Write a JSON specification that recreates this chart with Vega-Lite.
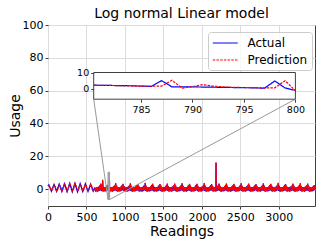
{
"$schema":"https://vega.github.io/schema/vega-lite/v6.json",
"width":267,"height":181,
"padding":{"left":8,"top":7,"right":5,"bottom":5},
"title":{"text":"Log normal Linear model","fontSize":14,"font":"DejaVu Sans","fontWeight":"normal","color":"#000000","offset":-2},
"config":{
"view":{"stroke":"#404040","strokeWidth":1},
"axis":{"labelFont":"DejaVu Sans","titleFont":"DejaVu Sans","labelFontSize":11,"titleFontSize":14,"titleFontWeight":"normal","labelColor":"#000000","titleColor":"#000000","gridColor":"#dcdcdc","gridWidth":1,"tickColor":"#404040","tickSize":3,"domain":false,"labelFlush":false,"labelOverlap":false,"labelBound":false},
"axisY":{"labelOverlap":false},
"axisLeft":{"labelOverlap":false}
},
"data":{"values":[
{"x":0,"a":2,"p":1.8},{"x":10,"a":2.6,"p":2.2},{"x":27,"a":0.8,"p":1.4},{"x":44,"a":-1.3,"p":-1},{"x":61,"a":0.7,"p":0.1},{"x":78,"a":2.8,"p":2.5},{"x":95,"a":0.9,"p":1.5},{"x":112,"a":-1.4,"p":-1.1},{"x":129,"a":0.8,"p":0.2},{"x":146,"a":3,"p":2.7},{"x":163,"a":0.9,"p":1.5},{"x":180,"a":-1.5,"p":-1.2},{"x":197,"a":0.9,"p":0.3},{"x":214,"a":3.3,"p":3},{"x":231,"a":1,"p":1.7},{"x":248,"a":-1.5,"p":-1.2},{"x":265,"a":1,"p":0.4},{"x":282,"a":3.5,"p":3.2},{"x":299,"a":1,"p":1.7},{"x":316,"a":-1.6,"p":-1.3},{"x":333,"a":1,"p":0.4},{"x":350,"a":3.5,"p":3.3},{"x":367,"a":1,"p":1.7},{"x":384,"a":-1.6,"p":-1.3},{"x":401,"a":0.9,"p":0.3},{"x":418,"a":3.3,"p":3.1},{"x":435,"a":0.9,"p":1.6},{"x":452,"a":-1.5,"p":-1.2},{"x":469,"a":0.9,"p":0.3},{"x":486,"a":3.2,"p":3},{"x":503,"a":0.8,"p":1.5},{"x":520,"a":-1.4,"p":-1.1},{"x":537,"a":0.8,"p":0.2},{"x":554,"a":3,"p":2.8},{"x":571,"a":0.8,"p":1.4},{"x":588,"a":-1.2,"p":-1},{"x":605,"a":0.5,"p":0},
{"x":621,"a":-1.4,"p":-1.1},{"x":627,"a":1,"p":1.2},{"x":633,"a":-1.3,"p":-1},{"x":639,"a":1.1,"p":1},{"x":645,"a":-1.5,"p":-1.1},{"x":651,"a":1.2,"p":1.4},{"x":657,"a":-1.2,"p":-0.9},{"x":663,"a":1.7,"p":1.6},{"x":669,"a":-1,"p":-0.6},{"x":675,"a":2.2,"p":2.4},{"x":681,"a":-0.6,"p":-0.3},{"x":687,"a":3.3,"p":3.5},{"x":693,"a":-1.1,"p":-0.7},{"x":699,"a":2,"p":2.2},{"x":705,"a":-1.4,"p":-1.1},{"x":711,"a":4.6,"p":5.8},
{"x":717,"a":-1.5,"p":-1.2},{"x":723,"a":1.1,"p":0.9},{"x":729,"a":-1.2,"p":-1},{"x":735,"a":1,"p":1.2},{"x":741,"a":-1.4,"p":-1.2},{"x":747,"a":1.3,"p":1.2},{"x":753,"a":-1.3,"p":-1},{"x":759,"a":1.6,"p":1.8},{"x":765,"a":-0.9,"p":-0.7},{"x":771,"a":2.4,"p":2.2},{"x":777,"a":-0.5,"p":-0.4},
{"x":780,"a":2.4,"p":2.3},{"x":781,"a":2.3,"p":2.3},{"x":782,"a":2.2,"p":2.2},{"x":783,"a":2.1,"p":2},{"x":784,"a":2,"p":1.9},{"x":785,"a":1.8,"p":1.8},{"x":786,"a":1.6,"p":1.7},{"x":787,"a":5.2,"p":1.8},{"x":788,"a":1.3,"p":5.4},{"x":789,"a":1.3,"p":0.5},{"x":790,"a":1.3,"p":1.5},{"x":791,"a":1.2,"p":2.7},{"x":792,"a":1.1,"p":1.8},{"x":793,"a":1,"p":1.3},{"x":794,"a":0.9,"p":1},{"x":795,"a":0.8,"p":0.9},{"x":796,"a":0.7,"p":0.8},{"x":797,"a":0.5,"p":0.6},{"x":798,"a":5,"p":0.7},{"x":799,"a":0.6,"p":5.2},{"x":800,"a":-0.9,"p":-1.1},
{"x":801,"a":-1.5,"p":-1.2},{"x":807,"a":1.2,"p":1},
{"x":813,"a":-1.4,"p":-1.1},{"x":819,"a":1,"p":1.2},{"x":825,"a":-1.3,"p":-1},{"x":831,"a":1.1,"p":1},{"x":837,"a":-1.5,"p":-1.1},{"x":843,"a":1.2,"p":1.4},{"x":849,"a":-1.2,"p":-0.9},{"x":855,"a":1.7,"p":1.6},{"x":861,"a":-1,"p":-0.6},{"x":867,"a":2.2,"p":2.4},{"x":873,"a":-0.6,"p":-0.3},{"x":879,"a":3.5,"p":3.7},{"x":885,"a":-1.1,"p":-0.7},{"x":891,"a":2,"p":2.2},{"x":897,"a":-1.4,"p":-1.1},{"x":903,"a":1.1,"p":1},
{"x":909,"a":-1.5,"p":-1.2},{"x":915,"a":1.1,"p":0.9},{"x":921,"a":-1.2,"p":-1},{"x":927,"a":1,"p":1.2},{"x":933,"a":-1.4,"p":-1.2},{"x":939,"a":1.3,"p":1.2},{"x":945,"a":-1.3,"p":-1},{"x":951,"a":1.6,"p":1.8},{"x":957,"a":-0.9,"p":-0.7},{"x":963,"a":2.4,"p":2.2},{"x":969,"a":-0.5,"p":-0.4},{"x":975,"a":3.2,"p":3.1},{"x":981,"a":-1.2,"p":-0.8},{"x":987,"a":1.8,"p":2.1},{"x":993,"a":-1.5,"p":-1.2},{"x":999,"a":1.2,"p":1},
{"x":1005,"a":-1.4,"p":-1.1},{"x":1011,"a":1,"p":1.2},{"x":1017,"a":-1.3,"p":-1},{"x":1023,"a":1.1,"p":1},{"x":1029,"a":-1.5,"p":-1.1},{"x":1035,"a":1.2,"p":1.4},{"x":1041,"a":-1.2,"p":-0.9},{"x":1047,"a":1.7,"p":1.6},{"x":1053,"a":-1,"p":-0.6},{"x":1059,"a":2.2,"p":2.4},{"x":1065,"a":-0.6,"p":-0.3},{"x":1071,"a":3.4,"p":3.6},{"x":1077,"a":-1.1,"p":-0.7},{"x":1083,"a":2,"p":2.2},{"x":1089,"a":-1.4,"p":-1.1},{"x":1095,"a":1.1,"p":1},
{"x":1101,"a":-1.5,"p":-1.2},{"x":1107,"a":1.1,"p":0.9},{"x":1113,"a":-1.2,"p":-1},{"x":1119,"a":1,"p":1.2},{"x":1125,"a":-1.4,"p":-1.2},{"x":1131,"a":1.3,"p":1.2},{"x":1137,"a":-1.3,"p":-1},{"x":1143,"a":1.6,"p":1.8},{"x":1149,"a":-0.9,"p":-0.7},{"x":1155,"a":2.4,"p":2.2},{"x":1161,"a":-0.5,"p":-0.4},{"x":1167,"a":3.1,"p":3},{"x":1173,"a":-1.2,"p":-0.8},{"x":1179,"a":1.8,"p":2.1},{"x":1185,"a":-1.5,"p":-1.2},{"x":1191,"a":1.2,"p":1},
{"x":1197,"a":-1.4,"p":-1.1},{"x":1203,"a":1,"p":1.2},{"x":1209,"a":-1.3,"p":-1},{"x":1215,"a":1.1,"p":1},{"x":1221,"a":-1.5,"p":-1.1},{"x":1227,"a":1.2,"p":1.4},{"x":1233,"a":-1.2,"p":-0.9},{"x":1239,"a":1.7,"p":1.6},{"x":1245,"a":-1,"p":-0.6},{"x":1251,"a":2.2,"p":2.4},{"x":1257,"a":-0.6,"p":-0.3},{"x":1263,"a":3.6,"p":3.8},{"x":1269,"a":-1.1,"p":-0.7},{"x":1275,"a":2,"p":2.2},{"x":1281,"a":-1.4,"p":-1.1},{"x":1287,"a":1.1,"p":1},
{"x":1293,"a":-1.5,"p":-1.2},{"x":1299,"a":1.1,"p":0.9},{"x":1305,"a":-1.2,"p":-1},{"x":1311,"a":1,"p":1.2},{"x":1317,"a":-1.4,"p":-1.2},{"x":1323,"a":1.3,"p":1.2},{"x":1329,"a":-1.3,"p":-1},{"x":1335,"a":1.6,"p":1.8},{"x":1341,"a":-0.9,"p":-0.7},{"x":1347,"a":2.4,"p":2.2},{"x":1353,"a":-0.5,"p":-0.4},{"x":1359,"a":3.3,"p":3.2},{"x":1365,"a":-1.2,"p":-0.8},{"x":1371,"a":1.8,"p":2.1},{"x":1377,"a":-1.5,"p":-1.2},{"x":1383,"a":1.2,"p":1},
{"x":1389,"a":-1.4,"p":-1.1},{"x":1395,"a":1,"p":1.2},{"x":1401,"a":-1.3,"p":-1},{"x":1407,"a":1.1,"p":1},{"x":1413,"a":-1.5,"p":-1.1},{"x":1419,"a":1.2,"p":1.4},{"x":1425,"a":-1.2,"p":-0.9},{"x":1431,"a":1.7,"p":1.6},{"x":1437,"a":-1,"p":-0.6},{"x":1443,"a":2.2,"p":2.4},{"x":1449,"a":-0.6,"p":-0.3},{"x":1455,"a":3,"p":3.2},{"x":1461,"a":-1.1,"p":-0.7},{"x":1467,"a":2,"p":2.2},{"x":1473,"a":-1.4,"p":-1.1},{"x":1479,"a":1.1,"p":1},
{"x":1485,"a":-1.5,"p":-1.2},{"x":1491,"a":1.1,"p":0.9},{"x":1497,"a":-1.2,"p":-1},{"x":1503,"a":1,"p":1.2},{"x":1509,"a":-1.4,"p":-1.2},{"x":1515,"a":1.3,"p":1.2},{"x":1521,"a":-1.3,"p":-1},{"x":1527,"a":1.6,"p":1.8},{"x":1533,"a":-0.9,"p":-0.7},{"x":1539,"a":2.4,"p":2.2},{"x":1545,"a":-0.5,"p":-0.4},{"x":1551,"a":3.4,"p":3.3},{"x":1557,"a":-1.2,"p":-0.8},{"x":1563,"a":1.8,"p":2.1},{"x":1569,"a":-1.5,"p":-1.2},{"x":1575,"a":1.2,"p":1},
{"x":1581,"a":-1.4,"p":-1.1},{"x":1587,"a":1,"p":1.2},{"x":1593,"a":-1.3,"p":-1},{"x":1599,"a":1.1,"p":1},{"x":1605,"a":-1.5,"p":-1.1},{"x":1611,"a":1.2,"p":1.4},{"x":1617,"a":-1.2,"p":-0.9},{"x":1623,"a":1.7,"p":1.6},{"x":1629,"a":-1,"p":-0.6},{"x":1635,"a":2.2,"p":2.4},{"x":1641,"a":-0.6,"p":-0.3},{"x":1647,"a":3.2,"p":3.4},{"x":1653,"a":-1.1,"p":-0.7},{"x":1659,"a":2,"p":2.2},{"x":1665,"a":-1.4,"p":-1.1},{"x":1671,"a":1.1,"p":1},
{"x":1677,"a":-1.5,"p":-1.2},{"x":1683,"a":1.1,"p":0.9},{"x":1689,"a":-1.2,"p":-1},{"x":1695,"a":1,"p":1.2},{"x":1701,"a":-1.4,"p":-1.2},{"x":1707,"a":1.3,"p":1.2},{"x":1713,"a":-1.3,"p":-1},{"x":1719,"a":1.6,"p":1.8},{"x":1725,"a":-0.9,"p":-0.7},{"x":1731,"a":2.4,"p":2.2},{"x":1737,"a":-0.5,"p":-0.4},{"x":1743,"a":3.5,"p":3.4},{"x":1749,"a":-1.2,"p":-0.8},{"x":1755,"a":1.8,"p":2.1},{"x":1761,"a":-1.5,"p":-1.2},{"x":1767,"a":1.2,"p":1},
{"x":1773,"a":-1.4,"p":-1.1},{"x":1779,"a":1,"p":1.2},{"x":1785,"a":-1.3,"p":-1},{"x":1791,"a":1.1,"p":1},{"x":1797,"a":-1.5,"p":-1.1},{"x":1803,"a":1.2,"p":1.4},{"x":1809,"a":-1.2,"p":-0.9},{"x":1815,"a":1.7,"p":1.6},{"x":1821,"a":-1,"p":-0.6},{"x":1827,"a":2.2,"p":2.4},{"x":1833,"a":-0.6,"p":-0.3},{"x":1839,"a":3.1,"p":3.3},{"x":1845,"a":-1.1,"p":-0.7},{"x":1851,"a":2,"p":2.2},{"x":1857,"a":-1.4,"p":-1.1},{"x":1863,"a":1.1,"p":1},
{"x":1869,"a":-1.5,"p":-1.2},{"x":1875,"a":1.1,"p":0.9},{"x":1881,"a":-1.2,"p":-1},{"x":1887,"a":1,"p":1.2},{"x":1893,"a":-1.4,"p":-1.2},{"x":1899,"a":1.3,"p":1.2},{"x":1905,"a":-1.3,"p":-1},{"x":1911,"a":1.6,"p":1.8},{"x":1917,"a":-0.9,"p":-0.7},{"x":1923,"a":2.4,"p":2.2},{"x":1929,"a":-0.5,"p":-0.4},{"x":1935,"a":3.3,"p":3.2},{"x":1941,"a":-1.2,"p":-0.8},{"x":1947,"a":1.8,"p":2.1},{"x":1953,"a":-1.5,"p":-1.2},{"x":1959,"a":1.2,"p":1},
{"x":1965,"a":-1.4,"p":-1.1},{"x":1971,"a":1,"p":1.2},{"x":1977,"a":-1.3,"p":-1},{"x":1983,"a":1.1,"p":1},{"x":1989,"a":-1.5,"p":-1.1},{"x":1995,"a":1.2,"p":1.4},{"x":2001,"a":-1.2,"p":-0.9},{"x":2007,"a":1.7,"p":1.6},{"x":2013,"a":-1,"p":-0.6},{"x":2019,"a":2.2,"p":2.4},{"x":2025,"a":-0.6,"p":-0.3},{"x":2031,"a":3.6,"p":3.8},{"x":2037,"a":-1.1,"p":-0.7},{"x":2043,"a":2,"p":2.2},{"x":2049,"a":-1.4,"p":-1.1},{"x":2055,"a":1.1,"p":1},
{"x":2061,"a":-1.5,"p":-1.2},{"x":2067,"a":1.1,"p":0.9},{"x":2073,"a":-1.2,"p":-1},{"x":2079,"a":1,"p":1.2},{"x":2085,"a":-1.4,"p":-1.2},{"x":2091,"a":1.3,"p":1.2},{"x":2097,"a":-1.3,"p":-1},{"x":2103,"a":1.6,"p":1.8},{"x":2109,"a":-0.9,"p":-0.7},{"x":2115,"a":2.4,"p":2.2},{"x":2121,"a":-0.5,"p":-0.4},{"x":2127,"a":3,"p":2.9},{"x":2133,"a":-1.2,"p":-0.8},{"x":2139,"a":1.8,"p":2.1},{"x":2145,"a":-1.5,"p":-1.2},{"x":2151,"a":1.2,"p":1},
{"x":2157,"a":-1.4,"p":-1.1},{"x":2163,"a":1,"p":1.2},{"x":2169,"a":-1.3,"p":-1},{"x":2175,"a":1.1,"p":1},{"x":2181,"a":-1.5,"p":-1.1},{"x":2184,"a":16,"p":16.3},{"x":2187,"a":1.2,"p":1.4},{"x":2193,"a":-1.2,"p":-0.9},{"x":2199,"a":1.7,"p":1.6},{"x":2205,"a":-1,"p":-0.6},{"x":2211,"a":2.2,"p":2.4},{"x":2217,"a":-0.6,"p":-0.3},{"x":2223,"a":3.2,"p":3.4},{"x":2229,"a":-1.1,"p":-0.7},{"x":2235,"a":2,"p":2.2},{"x":2241,"a":-1.4,"p":-1.1},{"x":2247,"a":1.1,"p":1},
{"x":2253,"a":-1.5,"p":-1.2},{"x":2259,"a":1.1,"p":0.9},{"x":2265,"a":-1.2,"p":-1},{"x":2271,"a":1,"p":1.2},{"x":2277,"a":-1.4,"p":-1.2},{"x":2283,"a":1.3,"p":1.2},{"x":2289,"a":-1.3,"p":-1},{"x":2295,"a":1.6,"p":1.8},{"x":2301,"a":-0.9,"p":-0.7},{"x":2307,"a":2.4,"p":2.2},{"x":2313,"a":-0.5,"p":-0.4},{"x":2319,"a":3.4,"p":3.3},{"x":2325,"a":-1.2,"p":-0.8},{"x":2331,"a":1.8,"p":2.1},{"x":2337,"a":-1.5,"p":-1.2},{"x":2343,"a":1.2,"p":1},
{"x":2349,"a":-1.4,"p":-1.1},{"x":2355,"a":1,"p":1.2},{"x":2361,"a":-1.3,"p":-1},{"x":2367,"a":1.1,"p":1},{"x":2373,"a":-1.5,"p":-1.1},{"x":2379,"a":1.2,"p":1.4},{"x":2385,"a":-1.2,"p":-0.9},{"x":2391,"a":1.7,"p":1.6},{"x":2397,"a":-1,"p":-0.6},{"x":2403,"a":2.2,"p":2.4},{"x":2409,"a":-0.6,"p":-0.3},{"x":2415,"a":3.1,"p":3.3},{"x":2421,"a":-1.1,"p":-0.7},{"x":2427,"a":2,"p":2.2},{"x":2433,"a":-1.4,"p":-1.1},{"x":2439,"a":1.1,"p":1},
{"x":2445,"a":-1.5,"p":-1.2},{"x":2451,"a":1.1,"p":0.9},{"x":2457,"a":-1.2,"p":-1},{"x":2463,"a":1,"p":1.2},{"x":2469,"a":-1.4,"p":-1.2},{"x":2475,"a":1.3,"p":1.2},{"x":2481,"a":-1.3,"p":-1},{"x":2487,"a":1.6,"p":1.8},{"x":2493,"a":-0.9,"p":-0.7},{"x":2499,"a":2.4,"p":2.2},{"x":2505,"a":-0.5,"p":-0.4},{"x":2511,"a":3.5,"p":3.4},{"x":2517,"a":-1.2,"p":-0.8},{"x":2523,"a":1.8,"p":2.1},{"x":2529,"a":-1.5,"p":-1.2},{"x":2535,"a":1.2,"p":1},
{"x":2541,"a":-1.4,"p":-1.1},{"x":2547,"a":1,"p":1.2},{"x":2553,"a":-1.3,"p":-1},{"x":2559,"a":1.1,"p":1},{"x":2565,"a":-1.5,"p":-1.1},{"x":2571,"a":1.2,"p":1.4},{"x":2577,"a":-1.2,"p":-0.9},{"x":2583,"a":1.7,"p":1.6},{"x":2589,"a":-1,"p":-0.6},{"x":2595,"a":2.2,"p":2.4},{"x":2601,"a":-0.6,"p":-0.3},{"x":2607,"a":3.3,"p":3.5},{"x":2613,"a":-1.1,"p":-0.7},{"x":2619,"a":2,"p":2.2},{"x":2625,"a":-1.4,"p":-1.1},{"x":2631,"a":1.1,"p":1},
{"x":2637,"a":-1.5,"p":-1.2},{"x":2643,"a":1.1,"p":0.9},{"x":2649,"a":-1.2,"p":-1},{"x":2655,"a":1,"p":1.2},{"x":2661,"a":-1.4,"p":-1.2},{"x":2667,"a":1.3,"p":1.2},{"x":2673,"a":-1.3,"p":-1},{"x":2679,"a":1.6,"p":1.8},{"x":2685,"a":-0.9,"p":-0.7},{"x":2691,"a":2.4,"p":2.2},{"x":2697,"a":-0.5,"p":-0.4},{"x":2703,"a":3,"p":2.9},{"x":2709,"a":-1.2,"p":-0.8},{"x":2715,"a":1.8,"p":2.1},{"x":2721,"a":-1.5,"p":-1.2},{"x":2727,"a":1.2,"p":1},
{"x":2733,"a":-1.4,"p":-1.1},{"x":2739,"a":1,"p":1.2},{"x":2745,"a":-1.3,"p":-1},{"x":2751,"a":1.1,"p":1},{"x":2757,"a":-1.5,"p":-1.1},{"x":2763,"a":1.2,"p":1.4},{"x":2769,"a":-1.2,"p":-0.9},{"x":2775,"a":1.7,"p":1.6},{"x":2781,"a":-1,"p":-0.6},{"x":2787,"a":2.2,"p":2.4},{"x":2793,"a":-0.6,"p":-0.3},{"x":2799,"a":3.4,"p":3.6},{"x":2805,"a":-1.1,"p":-0.7},{"x":2811,"a":2,"p":2.2},{"x":2817,"a":-1.4,"p":-1.1},{"x":2823,"a":1.1,"p":1},
{"x":2829,"a":-1.5,"p":-1.2},{"x":2835,"a":1.1,"p":0.9},{"x":2841,"a":-1.2,"p":-1},{"x":2847,"a":1,"p":1.2},{"x":2853,"a":-1.4,"p":-1.2},{"x":2859,"a":1.3,"p":1.2},{"x":2865,"a":-1.3,"p":-1},{"x":2871,"a":1.6,"p":1.8},{"x":2877,"a":-0.9,"p":-0.7},{"x":2883,"a":2.4,"p":2.2},{"x":2889,"a":-0.5,"p":-0.4},{"x":2895,"a":3.2,"p":3.1},{"x":2901,"a":-1.2,"p":-0.8},{"x":2907,"a":1.8,"p":2.1},{"x":2913,"a":-1.5,"p":-1.2},{"x":2919,"a":1.2,"p":1},
{"x":2925,"a":-1.4,"p":-1.1},{"x":2931,"a":1,"p":1.2},{"x":2937,"a":-1.3,"p":-1},{"x":2943,"a":1.1,"p":1},{"x":2949,"a":-1.5,"p":-1.1},{"x":2955,"a":1.2,"p":1.4},{"x":2961,"a":-1.2,"p":-0.9},{"x":2967,"a":1.7,"p":1.6},{"x":2973,"a":-1,"p":-0.6},{"x":2979,"a":2.2,"p":2.4},{"x":2985,"a":-0.6,"p":-0.3},{"x":2991,"a":3.6,"p":3.8},{"x":2997,"a":-1.1,"p":-0.7},{"x":3003,"a":2,"p":2.2},{"x":3009,"a":-1.4,"p":-1.1},{"x":3015,"a":1.1,"p":1},
{"x":3021,"a":-1.5,"p":-1.2},{"x":3027,"a":1.1,"p":0.9},{"x":3033,"a":-1.2,"p":-1},{"x":3039,"a":1,"p":1.2},{"x":3045,"a":-1.4,"p":-1.2},{"x":3051,"a":1.3,"p":1.2},{"x":3057,"a":-1.3,"p":-1},{"x":3063,"a":1.6,"p":1.8},{"x":3069,"a":-0.9,"p":-0.7},{"x":3075,"a":2.4,"p":2.2},{"x":3081,"a":-0.5,"p":-0.4},{"x":3087,"a":3.1,"p":3},{"x":3093,"a":-1.2,"p":-0.8},{"x":3099,"a":1.8,"p":2.1},{"x":3105,"a":-1.5,"p":-1.2},{"x":3111,"a":1.2,"p":1},
{"x":3117,"a":-1.4,"p":-1.1},{"x":3123,"a":1,"p":1.2},{"x":3129,"a":-1.3,"p":-1},{"x":3135,"a":1.1,"p":1},{"x":3141,"a":-1.5,"p":-1.1},{"x":3147,"a":1.2,"p":1.4},{"x":3153,"a":-1.2,"p":-0.9},{"x":3159,"a":1.7,"p":1.6},{"x":3165,"a":-1,"p":-0.6},{"x":3171,"a":2.2,"p":2.4},{"x":3177,"a":-0.6,"p":-0.3},{"x":3183,"a":3.3,"p":3.5},{"x":3189,"a":-1.1,"p":-0.7},{"x":3195,"a":2,"p":2.2},{"x":3201,"a":-1.4,"p":-1.1},{"x":3207,"a":1.1,"p":1},
{"x":3213,"a":-1.5,"p":-1.2},{"x":3219,"a":1.1,"p":0.9},{"x":3225,"a":-1.2,"p":-1},{"x":3231,"a":1,"p":1.2},{"x":3237,"a":-1.4,"p":-1.2},{"x":3243,"a":1.3,"p":1.2},{"x":3249,"a":-1.3,"p":-1},{"x":3255,"a":1.6,"p":1.8},{"x":3261,"a":-0.9,"p":-0.7},{"x":3267,"a":2.4,"p":2.2},{"x":3273,"a":-0.5,"p":-0.4},{"x":3279,"a":3.5,"p":3.4},{"x":3285,"a":-1.2,"p":-0.8},{"x":3291,"a":1.8,"p":2.1},{"x":3297,"a":-1.5,"p":-1.2},{"x":3303,"a":1.2,"p":1},
{"x":3309,"a":-1.4,"p":-1.1},{"x":3315,"a":1,"p":1.2},{"x":3321,"a":-1.3,"p":-1},{"x":3327,"a":1.1,"p":1},{"x":3333,"a":-1.5,"p":-1.1},{"x":3339,"a":1.2,"p":1.4},{"x":3345,"a":-1.2,"p":-0.9},{"x":3351,"a":1.7,"p":1.6},{"x":3357,"a":-1,"p":-0.6},{"x":3363,"a":2.2,"p":2.4},{"x":3369,"a":-0.6,"p":-0.3},{"x":3375,"a":3.2,"p":3.4},{"x":3381,"a":-1.1,"p":-0.7},{"x":3387,"a":2,"p":2.2},{"x":3393,"a":-1.4,"p":-1.1},{"x":3399,"a":1.1,"p":1},
{"x":3405,"a":-1.5,"p":-1.2},{"x":3411,"a":1.1,"p":0.9},{"x":3417,"a":-1.2,"p":-1},{"x":3423,"a":1,"p":1.2},{"x":3429,"a":-1.4,"p":-1.2},{"x":3435,"a":1.3,"p":1.2},{"x":3441,"a":-1.3,"p":-1},{"x":3447,"a":1.6,"p":1.8},{"x":3453,"a":-0.9,"p":-0.7},{"x":3459,"a":2.4,"p":2.2},{"x":3465,"a":-0.5,"p":-0.4},{"x":3469,"a":1.2,"p":1.4}
]},
"layer":[
{"layer":[
{"transform":[{"fold":["a","p"],"as":["k","v"]},{"filter":"datum.k=='a'"}],
"mark":{"type":"line","strokeWidth":1.3},
"encoding":{
"x":{"field":"x","type":"quantitative","title":"Readings","scale":{"domain":[0,3470],"nice":false,"zero":false},"axis":{"values":[0,500,1000,1500,2000,2500,3000],"format":"d","grid":true,"titlePadding":2,"labelOverlap":false}},
"y":{"field":"v","type":"quantitative","title":"Usage","scale":{"domain":[-10.3,100],"nice":false,"zero":false},"axis":{"values":[0,20,40,60,80,100],"tickCount":6,"format":"d","grid":true,"titlePadding":0,"labelOverlap":false}},
"color":{"field":"k","type":"nominal","scale":{"domain":["a","p"],"range":["#0000ff","#ff0000"]},"legend":{"title":null,"orient":"none","legendX":160,"legendY":7,"labelExpr":"datum.label=='a'?'Actual':'Prediction'","fillColor":"rgba(255,255,255,0.8)","strokeColor":"#cccccc","cornerRadius":3,"padding":4,"labelFont":"DejaVu Sans","labelFontSize":12,"labelColor":"#000000","symbolType":"M-1,0H3","symbolSize":156,"symbolStrokeWidth":1.2,"labelOffset":21.5,"rowPadding":4}},
"strokeDash":{"field":"k","type":"nominal","scale":{"domain":["a","p"],"range":[[1,0],[2.5,1.2]]},"legend":{"title":null,"orient":"none","legendX":160,"legendY":7,"labelExpr":"datum.label=='a'?'Actual':'Prediction'","fillColor":"rgba(255,255,255,0.8)","strokeColor":"#cccccc","cornerRadius":3,"padding":4,"labelFont":"DejaVu Sans","labelFontSize":12,"labelColor":"#000000","symbolType":"M-1,0H3","symbolSize":156,"symbolStrokeWidth":1.2,"labelOffset":21.5,"rowPadding":4}}
}},
{"transform":[{"fold":["a","p"],"as":["k","v"]},{"filter":"datum.k=='p'"}],
"mark":{"type":"line","strokeWidth":1.3},
"encoding":{
"x":{"field":"x","type":"quantitative","title":"Readings","axis":{"values":[0,500,1000,1500,2000,2500,3000],"format":"d","grid":true,"titlePadding":2,"labelOverlap":false}},
"y":{"field":"v","type":"quantitative","title":"Usage","axis":{"values":[0,20,40,60,80,100],"tickCount":6,"format":"d","grid":true,"titlePadding":0,"labelOverlap":false}},
"color":{"field":"k","type":"nominal"},
"strokeDash":{"field":"k","type":"nominal"}
}},
{"data":{"values":[{"x1":780,"x2":800,"y1":-6.4,"y2":10.3}]},
"mark":{"type":"rect","fill":"#aaaaaa","stroke":"#999999","strokeWidth":1},
"encoding":{"x":{"field":"x1","type":"quantitative","title":"Readings"},"x2":{"field":"x2"},"y":{"field":"y1","type":"quantitative","title":"Usage"},"y2":{"field":"y2"}}},
{"data":{"values":[{"x1":780,"y1":-6.4,"x2":594,"y2":54.8},{"x1":800,"y1":-6.4,"x2":3215,"y2":54.8}]},
"mark":{"type":"rule","color":"#999999","strokeWidth":1},
"encoding":{"x":{"field":"x1","type":"quantitative","title":"Readings"},"x2":{"field":"x2"},"y":{"field":"y1","type":"quantitative","title":"Usage"},"y2":{"field":"y2"}}}
]},
{"layer":[
{"data":{"values":[{"x1":780.4,"x2":800,"y1":-6.4,"y2":10.3}]},
"mark":{"type":"rect","fill":"#ffffff","stroke":"#404040","strokeWidth":1},
"encoding":{
"x":{"field":"x1","type":"quantitative","title":null,"scale":{"domain":[780.4,800],"range":[45.7,247.4],"clamp":true,"nice":false,"zero":false},"axis":{"orient":"bottom","offset":-106.8,"values":[785,790,795,800],"grid":false,"title":null,"labelFontSize":9.5,"labelPadding":2,"zindex":1}},
"x2":{"field":"x2"},
"y":{"field":"y1","type":"quantitative","title":null,"scale":{"domain":[-6.4,10.3],"range":[74.2,47.5],"nice":false,"zero":false},"axis":{"orient":"left","offset":-45.7,"values":[0,10],"grid":false,"title":null,"labelFontSize":9.5,"labelPadding":2,"zindex":1}},
"y2":{"field":"y2"}
}},
{"transform":[{"filter":{"field":"x","range":[780,800]}},{"fold":["a","p"],"as":["k","v"]},{"filter":"datum.k=='a'"}],
"mark":{"type":"line","strokeWidth":1.2},
"encoding":{"x":{"field":"x","type":"quantitative","title":null},"y":{"field":"v","type":"quantitative","title":null},"color":{"field":"k","type":"nominal"},"strokeDash":{"field":"k","type":"nominal"}}},
{"transform":[{"filter":{"field":"x","range":[780,800]}},{"fold":["a","p"],"as":["k","v"]},{"filter":"datum.k=='p'"}],
"mark":{"type":"line","strokeWidth":1.2},
"encoding":{"x":{"field":"x","type":"quantitative","title":null},"y":{"field":"v","type":"quantitative","title":null},"color":{"field":"k","type":"nominal"},"strokeDash":{"field":"k","type":"nominal"}}}
]}
],
"resolve":{"scale":{"x":"independent","y":"independent"},"axis":{"x":"independent","y":"independent"}}
}
